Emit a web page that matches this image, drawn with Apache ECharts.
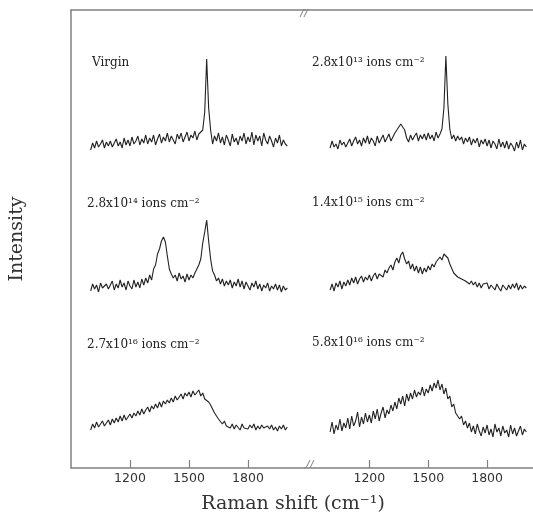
<!DOCTYPE html>
<html><head><meta charset="utf-8">
<script src="https://cdn.jsdelivr.net/npm/echarts@6/dist/echarts.min.js"></script>
<style>html,body{margin:0;padding:0;background:#fff}#c{width:533px;height:517px}</style>
</head><body><div id="c"></div>
<script>
// Raman shift (cm^-1) sampling points
const ramanShift = [
 1000,1010,1020,1030,1040,1050,1060,1070,1080,1090,
 1100,1110,1120,1130,1140,1150,1160,1170,1180,1190,
 1200,1210,1220,1230,1240,1250,1260,1270,1280,1290,
 1300,1310,1320,1330,1340,1350,1360,1370,1380,1390,
 1400,1410,1420,1430,1440,1450,1460,1470,1480,1490,
 1500,1510,1520,1530,1540,1550,1560,1570,1580,1590,
 1600,1610,1620,1630,1640,1650,1660,1670,1680,1690,
 1700,1710,1720,1730,1740,1750,1760,1770,1780,1790,
 1800,1810,1820,1830,1840,1850,1860,1870,1880,1890,
 1900,1910,1920,1930,1940,1950,1960,1970,1980,1990,
 2000];

const virgin = [
 10,17,12,19,13,16,20,12,18,14,
 19,13,17,21,14,18,12,22,15,20,
 14,23,16,19,24,15,21,17,25,16,
 22,18,25,15,21,26,17,23,19,27,
 18,24,20,16,26,21,27,18,23,28,
 19,25,22,29,20,26,24,30,48,101,
 52,30,16,24,19,27,17,23,15,25,
 20,14,26,18,22,15,24,19,27,16,
 23,18,28,15,25,19,24,14,27,20,
 16,24,19,13,22,17,25,14,20,16,
 14];

const dose28e13 = [
 12,19,13,16,11,20,15,18,13,17,
 21,14,19,23,16,20,14,22,17,24,
 16,22,19,14,24,17,21,25,18,22,
 26,19,23,27,28,33,36,38,30,22,
 18,25,20,24,27,19,25,21,26,20,
 27,21,25,19,28,22,26,31,52,104,
 56,31,21,25,19,24,20,23,16,22,
 18,23,15,21,17,22,13,20,16,21,
 14,20,12,19,16,11,21,13,18,12,
 19,11,17,14,9,18,12,20,10,16,
 13];

const dose28e14 = [
 9,16,11,15,8,17,12,10,16,11,
 15,19,10,16,12,20,13,17,10,19,
 14,11,20,13,18,12,21,15,22,17,
 25,20,31,35,46,51,59,63,58,44,
 31,26,22,25,19,27,21,24,18,26,
 20,25,22,27,28,35,41,57,68,80,
 59,41,29,25,19,22,16,21,14,19,
 15,20,12,18,14,21,13,19,11,18,
 16,10,17,13,19,11,16,9,15,12,
 17,9,14,11,16,10,15,8,14,10,
 12];

const dose14e15 = [
 10,16,9,17,13,19,11,18,14,20,
 15,22,17,23,16,21,24,18,23,20,
 25,19,24,27,21,26,28,23,30,27,
 32,35,30,38,42,37,45,48,41,36,
 39,31,36,29,34,27,33,26,32,28,
 34,30,36,33,38,40,43,40,46,48,
 42,36,34,27,28,23,24,21,22,19,
 20,16,19,15,18,13,17,12,16,14,
 17,11,15,13,10,16,12,9,15,14,
 10,15,11,16,12,17,10,15,11,14,
 12];

const dose27e16 = [
 10,16,12,18,13,15,19,14,17,20,
 15,21,17,22,18,24,19,25,20,23,
 26,22,27,24,29,25,31,26,30,33,
 28,34,31,36,32,38,33,39,36,40,
 37,42,38,44,40,43,46,41,47,44,
 48,43,49,45,47,50,44,47,41,42,
 38,35,33,27,27,21,21,16,19,14,
 15,12,16,11,15,13,10,16,12,14,
 11,15,12,16,10,14,11,15,12,10,
 14,11,15,10,13,9,14,11,15,10,
 13];

const dose58e16 = [
 8,18,6,15,10,21,9,17,12,22,
 11,24,14,19,28,13,23,16,27,18,
 25,17,29,21,31,19,27,33,22,30,
 26,35,29,38,31,42,36,44,34,46,
 39,47,41,50,43,48,45,53,44,51,
 47,55,49,57,52,60,50,56,46,52,
 41,44,33,36,27,29,21,24,15,19,
 12,17,8,14,6,16,9,4,13,7,
 15,5,11,3,16,8,12,4,14,7,
 10,3,15,6,12,4,9,14,5,11,
 8];

const panelLabels = ['Virgin','2.8x10¹³ ions cm⁻²','2.8x10¹⁴ ions cm⁻²','1.4x10¹⁵ ions cm⁻²','2.7x10¹⁶ ions cm⁻²','5.8x10¹⁶ ions cm⁻²'];
const spectra = [virgin, dose28e13, dose28e14, dose14e15, dose27e16, dose58e16];
const tickValues = [1200, 1500, 1800];
const xTitle = 'Raman shift (cm⁻¹)';
const yTitle = 'Intensity';

// layout
const colLeft = [71, 305], colWidth = [234, 228];
const xRange = [[900, 2090], [872, 2034]];
const rowTop = [40, 180, 320], rowH = 120;
const labelPos = [[92,57],[312,57],[87,198],[312,197],[87,339],[312,337]];
const serif = 'DejaVu Serif';
const frameColor = '#808080';

const grids = [], xAxes = [], yAxes = [], series = [], titles = [];
// frame grids (0: left, 1: right)
for (let c = 0; c < 2; c++) {
  grids.push({left: colLeft[c], top: 10, width: colWidth[c], height: 458});
  xAxes.push({
    gridIndex: c, type: 'value', min: xRange[c][0], max: xRange[c][1], position: 'bottom',
    axisLine: {show: true, lineStyle: {color: frameColor, width: 1.5}},
    axisTick: {show: true, inside: true, length: 8, customValues: tickValues, lineStyle: {color: frameColor, width: 1.2}},
    axisLabel: {show: true, customValues: tickValues, margin: 4, color: '#333', fontSize: 12.5,
      fontFamily: 'DejaVu Sans', formatter: v => String(v)},
    splitLine: {show: false}
  });
  xAxes.push({
    gridIndex: c, type: 'value', min: xRange[c][0], max: xRange[c][1], position: 'top',
    axisLine: {show: true, lineStyle: {color: frameColor, width: 1.5}},
    axisTick: {show: false}, axisLabel: {show: false}, splitLine: {show: false}
  });
  yAxes.push({
    gridIndex: c, type: 'value', min: 0, max: 1, show: c === 0,
    axisLine: {show: true, lineStyle: {color: frameColor, width: 1.5}},
    axisTick: {show: false}, axisLabel: {show: false}, splitLine: {show: false},
    name: c === 0 ? yTitle : '', nameLocation: 'middle', nameGap: 44,
    nameTextStyle: {fontFamily: serif, fontSize: 19, color: '#333'}
  });
}
// spectrum grids
for (let p = 0; p < 6; p++) {
  const c = p % 2, r = Math.floor(p / 2);
  const gi = grids.length;
  grids.push({left: colLeft[c], top: rowTop[r], width: colWidth[c], height: rowH});
  xAxes.push({gridIndex: gi, type: 'value', min: xRange[c][0], max: xRange[c][1], show: false});
  yAxes.push({gridIndex: gi, type: 'value', min: 0, max: rowH, show: false});
  series.push({
    type: 'line', xAxisIndex: xAxes.length - 1, yAxisIndex: yAxes.length - 1,
    data: ramanShift.map((x, i) => [x, spectra[p][i]]),
    showSymbol: false, symbol: 'none', silent: true, clip: false,
    lineStyle: {color: '#222', width: 1.1}
  });
  titles.push({text: panelLabels[p], left: labelPos[p][0], top: labelPos[p][1], padding: 0,
    textStyle: {fontFamily: serif, fontSize: 12, fontWeight: 'normal', color: '#222'}});
}
titles.push({text: xTitle, left: 293, top: 495, textAlign: 'center', padding: 0,
  textStyle: {fontFamily: serif, fontSize: 19, fontWeight: 'normal', color: '#333'}});

const breakStyle = {stroke: frameColor, lineWidth: 1};
const option = {
  animation: false,
  backgroundColor: '#fff',
  title: titles,
  grid: grids, xAxis: xAxes, yAxis: yAxes, series: series,
  graphic: [
    {type: 'line', shape: {x1: 300, y1: 17, x2: 304, y2: 9}, style: breakStyle},
    {type: 'line', shape: {x1: 304, y1: 17, x2: 308, y2: 9}, style: breakStyle},
    {type: 'line', shape: {x1: 306, y1: 468, x2: 310, y2: 460}, style: breakStyle},
    {type: 'line', shape: {x1: 310, y1: 468, x2: 314, y2: 460}, style: breakStyle}
  ]
};
const chart = echarts.init(document.getElementById('c'), null, {renderer: 'canvas'});
chart.setOption(option);
</script></body></html>
